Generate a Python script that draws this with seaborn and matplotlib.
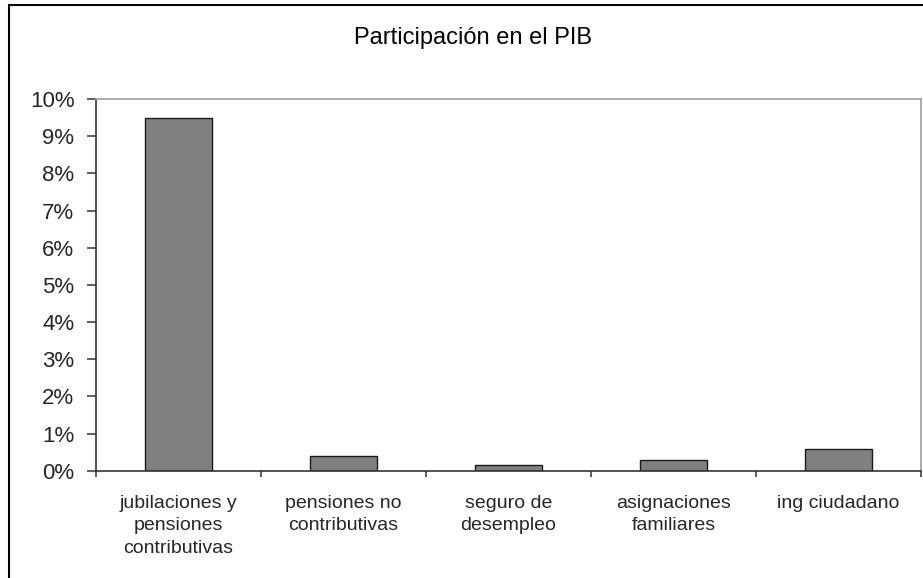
import matplotlib
matplotlib.use("Agg")
import matplotlib.pyplot as plt
import seaborn as sns
import pandas as pd
from matplotlib.patches import Rectangle
from matplotlib.ticker import FuncFormatter, MultipleLocator

# Data
categorias = ["jubilaciones y\npensiones\ncontributivas",
              "pensiones no\ncontributivas",
              "seguro de\ndesempleo",
              "asignaciones\nfamiliares",
              "ing ciudadano"]
participacion = [9.5, 0.39, 0.145, 0.28, 0.59]   # % del PIB

df = pd.DataFrame({"categoria": categorias, "pib": participacion})

sns.set_style("white")
plt.rcParams['font.family'] = ['Liberation Sans', 'DejaVu Sans']

fig = plt.figure(figsize=(9.23, 5.78), dpi=100)
ax = fig.add_axes([96/923, 1 - 470.7/578, (921-96)/923, (470.7-99)/578])

sns.barplot(data=df, x="categoria", y="pib", color="#808080", width=0.41,
            edgecolor="#1a1a1a", linewidth=1.0, saturation=1, ax=ax)

ax.set_xlim(-0.5, len(categorias) - 0.5)
ax.set_ylim(0, 10)
ax.yaxis.set_major_locator(MultipleLocator(1))
ax.yaxis.set_major_formatter(FuncFormatter(lambda v, p: f"{v:.0f}%"))
ax.set_xlabel("")
ax.set_ylabel("")

# category labels without ticks, tick marks at category boundaries
ax.set_xticks(range(len(categorias)))
ax.set_xticklabels(categorias, fontsize=14, linespacing=1.42, va="top")
ax.set_xticks([i - 0.5 for i in range(len(categorias) + 1)], minor=True)
ax.tick_params(axis="x", which="major", length=0, pad=17.5)
ax.tick_params(axis="x", which="minor", length=4, width=1.1, color="#333333", direction="out")
ax.tick_params(axis="y", length=6.5, width=1.1, color="#333333", direction="out",
               labelsize=16, pad=9)
ax.tick_params(bottom=True, left=True, which="both")

for s in ["left", "bottom"]:
    ax.spines[s].set_color("#333333")
    ax.spines[s].set_linewidth(1.2)
for s in ["top", "right"]:
    ax.spines[s].set_color("#a6a6a6")
    ax.spines[s].set_linewidth(1.3)
    ax.spines[s].set_visible(True)

fig.text(473/923, 1 - 38/578, "Participación en el PIB", ha="center", va="center",
         fontsize=17, color="black")

# outer chart border (cut at right and bottom)
fig.patches.append(Rectangle((9/923, -0.1), 1.2, 1.1 - 5/578, transform=fig.transFigure,
                             fill=False, edgecolor="black", linewidth=1.5, zorder=10))

fig.savefig("out.png", dpi=100)
